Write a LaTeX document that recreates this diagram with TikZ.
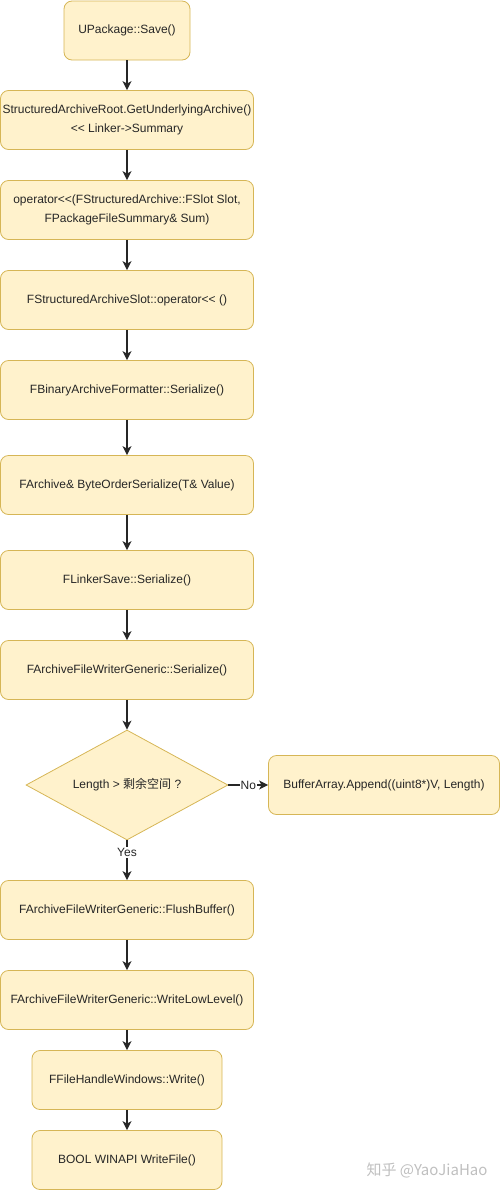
\documentclass[tikz,border=0pt]{standalone}
\usepackage{fontspec}
\setmainfont{Liberation Sans}
\newfontfamily\cjk{Noto Sans CJK SC}
\usetikzlibrary{shapes.geometric,arrows.meta}
\definecolor{boxfill}{HTML}{FFF2CC}
\definecolor{boxline}{HTML}{D6B656}
\tikzset{
	callbox/.style={draw=boxline, fill=boxfill, line width=0.8pt, rounded corners=8pt, minimum width=253pt, minimum height=59pt, align=center, inner sep=1pt, text=black!85, font=\fontsize{12}{18.5}\selectfont},
	testbox/.style={draw=boxline, fill=boxfill, line width=0.8pt, diamond, aspect=1.84, minimum width=202pt, minimum height=110pt, inner sep=0pt, text=black!85, font=\fontsize{12}{15}\selectfont},
	flow/.style={-{Stealth[length=9pt,width=9pt,inset=2.5pt]}, line width=1.3pt, black!85},
	flowlabel/.style={fill=white, inner sep=1pt, text=black!85, font=\fontsize{12}{13}\selectfont}
}
\begin{document}
\begin{tikzpicture}[x=1pt,y=1pt]
	\useasboundingbox (0,0) rectangle (501,-1192);
	% main call chain
	\node[callbox, minimum width=126pt] (save) at (127,-30.5) {UPackage::Save()};
	\node[callbox] (root) at (127,-120) {StructuredArchiveRoot.GetUnderlyingArchive()\\ {<}{<} Linker->Summary};
	\node[callbox] (op) at (127,-210) {operator{<}{<}(FStructuredArchive::FSlot Slot,\\ FPackageFileSummary\& Sum)};
	\node[callbox] (slot) at (127,-300) {FStructuredArchiveSlot::operator{<}{<} ()};
	\node[callbox] (formatter) at (127,-390) {FBinaryArchiveFormatter::Serialize()};
	\node[callbox] (byteorder) at (127,-485) {FArchive\& ByteOrderSerialize(T\& Value)};
	\node[callbox] (linker) at (127,-580) {FLinkerSave::Serialize()};
	\node[callbox] (writer) at (127,-670) {FArchiveFileWriterGeneric::Serialize()};
	\node[testbox] (space) at (127,-785) {Length > {\cjk 剩余空间} ?};
	\node[callbox, minimum width=231pt] (append) at (384,-785) {BufferArray.Append((uint8*)V, Length)};
	\node[callbox] (flush) at (127,-910) {FArchiveFileWriterGeneric::FlushBuffer()};
	\node[callbox] (lowlevel) at (127,-1000) {FArchiveFileWriterGeneric::WriteLowLevel()};
	\node[callbox, minimum width=190pt] (handle) at (127,-1080) {FFileHandleWindows::Write()};
	\node[callbox, minimum width=190pt] (winapi) at (127,-1160) {BOOL WINAPI WriteFile()};
	% arrows
	\draw[flow] (save) -- (root);
	\draw[flow] (root) -- (op);
	\draw[flow] (op) -- (slot);
	\draw[flow] (slot) -- (formatter);
	\draw[flow] (formatter) -- (byteorder);
	\draw[flow] (byteorder) -- (linker);
	\draw[flow] (linker) -- (writer);
	\draw[flow] (writer) -- (space);
	\draw[flow] (space) -- node[flowlabel] {No} (append);
	\draw[flow] (space) -- node[flowlabel, pos=0.3] {Yes} (flush);
	\draw[flow] (flush) -- (lowlevel);
	\draw[flow] (lowlevel) -- (handle);
	\draw[flow] (handle) -- (winapi);
	% watermark
	\node[text=black!25, font=\cjk\fontsize{15}{16}\selectfont] (mark) at (427,-1170) {知乎 @YaoJiaHao};
\end{tikzpicture}
\end{document}
